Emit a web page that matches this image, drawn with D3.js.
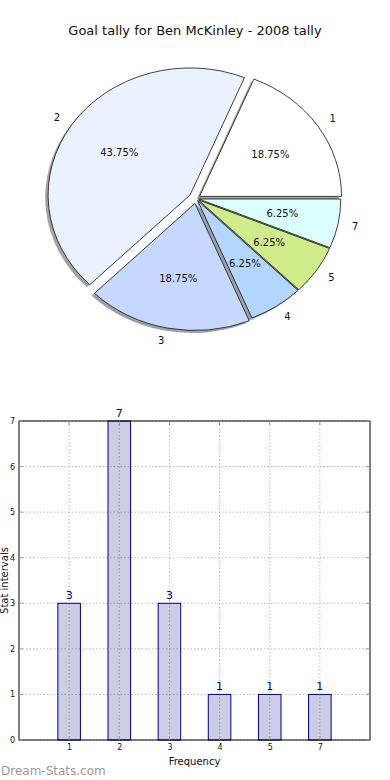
<!DOCTYPE html>
<html>
<head>
<meta charset="utf-8">
<script src="https://cdn.jsdelivr.net/npm/d3@7"></script>
<style>
  html, body { margin: 0; padding: 0; background: #fff; }
  svg { display: block; font-family: "DejaVu Sans", sans-serif; }
</style>
</head>
<body>
<svg id="chart" width="390" height="780"></svg>
<script>
// ---- data ----
const title = "Goal tally for Ben McKinley - 2008 tally";
const categories = ["1", "2", "3", "4", "5", "7"];
const counts = [3, 7, 3, 1, 1, 1];
const yTicks = [0, 1, 2, 3, 4, 5, 6, 7];
const xLabel = "Frequency";
const yLabel = "Stat intervals";
const watermark = "Dream-Stats.com";

// ---- style config ----
const sliceColors = ["#ffffff", "#eaf1ff", "#c6d8ff", "#b3d6ff", "#d0eb8a", "#dbffff"];
const explode = [0.03, 0.05, 0.04, 0.02, 0.02, 0.02];

const svg = d3.select("#chart");

// Title
svg.append("text")
  .attr("x", 195).attr("y", 35)
  .attr("text-anchor", "middle")
  .attr("font-size", 13)
  .attr("fill", "#111")
  .text(title);

// ---- Pie ----
const cx = 196, cy = 198.5, rx = 142, ry = 127;
const total = d3.sum(counts);
const pie = d3.pie().sort(null).value(d => d)
  .startAngle(Math.PI / 2).endAngle(Math.PI / 2 - 2 * Math.PI);
const arcs = pie(counts);
const unitArc = d3.arc().innerRadius(0).outerRadius(1);

function dir(a) { return [Math.sin(a), -Math.cos(a)]; }
function mid(d) { return (d.startAngle + d.endAngle) / 2; }

const pieG = svg.append("g");
// shadows
pieG.selectAll("path.shadow").data(arcs).enter().append("path")
  .attr("class", "shadow")
  .attr("d", unitArc)
  .attr("transform", (d, i) => {
    const [ux, uy] = dir(mid(d));
    const e = explode[i];
    return `translate(${cx + rx * (e * ux - 0.02)},${cy + ry * (e * uy + 0.02)}) scale(${rx},${ry})`;
  })
  .attr("fill", (d, i) => { const c = d3.rgb(sliceColors[i]); return d3.rgb(c.r * 0.3, c.g * 0.3, c.b * 0.3).toString(); })
  .attr("fill-opacity", 0.5)
  .attr("stroke", "none");
// wedges
pieG.selectAll("path.wedge").data(arcs).enter().append("path")
  .attr("class", "wedge")
  .attr("d", unitArc)
  .attr("transform", (d, i) => {
    const [ux, uy] = dir(mid(d));
    const e = explode[i];
    return `translate(${cx + rx * e * ux},${cy + ry * e * uy}) scale(${rx},${ry})`;
  })
  .attr("fill", (d, i) => sliceColors[i])
  .attr("stroke", "#111")
  .attr("stroke-width", 0.8)
  .attr("vector-effect", "non-scaling-stroke");
// category labels
pieG.selectAll("text.lab").data(arcs).enter().append("text")
  .attr("class", "lab")
  .each(function (d, i) {
    const [ux, uy] = dir(mid(d));
    const k = 1.1 + explode[i];
    d3.select(this)
      .attr("x", cx + rx * k * ux)
      .attr("y", cy + ry * k * uy)
      .attr("text-anchor", ux > 0 ? "start" : "end");
  })
  .attr("dy", "0.35em")
  .attr("font-size", 10)
  .attr("fill", "#111")
  .text((d, i) => categories[i]);
// pct labels
pieG.selectAll("text.pct").data(arcs).enter().append("text")
  .attr("class", "pct")
  .each(function (d, i) {
    const [ux, uy] = dir(mid(d));
    const k = 0.6 + explode[i];
    d3.select(this)
      .attr("x", cx + rx * k * ux)
      .attr("y", cy + ry * k * uy);
  })
  .attr("text-anchor", "middle")
  .attr("dy", "0.35em")
  .attr("font-size", 10)
  .attr("fill", "#111")
  .text(d => (d.value / total * 100).toFixed(2) + "%");

// ---- Bar chart ----
const L = 19, R = 370, T = 421, B = 740;
const x = d3.scalePoint().domain(categories).range([L, R]).padding(1);
const y = d3.scaleLinear().domain([0, 7]).range([B, T]);
const bw = x.step() * 0.45;

const bars = svg.append("g");
// grid
bars.append("g").selectAll("line").data(yTicks).enter().append("line")
  .attr("x1", L).attr("x2", R)
  .attr("y1", d => y(d)).attr("y2", d => y(d))
  .attr("stroke", "#bbb").attr("stroke-width", 1)
  .attr("stroke-dasharray", "1.5,2");
bars.append("g").selectAll("line").data(categories).enter().append("line")
  .attr("y1", T).attr("y2", B)
  .attr("x1", d => x(d)).attr("x2", d => x(d))
  .attr("stroke", "#bbb").attr("stroke-width", 1)
  .attr("stroke-dasharray", "1.5,2");

// bars
bars.append("g").selectAll("rect").data(counts).enter().append("rect")
  .attr("x", (d, i) => x(categories[i]) - bw / 2)
  .attr("width", bw)
  .attr("y", d => y(d))
  .attr("height", d => y(0) - y(d))
  .attr("fill", "#00007f")
  .attr("fill-opacity", 0.2)
  .attr("stroke", "#00008b")
  .attr("stroke-width", 1);

// value labels
bars.append("g").selectAll("text").data(counts).enter().append("text")
  .attr("x", (d, i) => x(categories[i]))
  .attr("y", d => y(d) - 4)
  .attr("text-anchor", "middle")
  .attr("font-size", 11)
  .attr("fill", "#00008b")
  .text(d => d);

// frame
bars.append("rect")
  .attr("x", L).attr("y", T).attr("width", R - L).attr("height", B - T)
  .attr("fill", "none").attr("stroke", "#000").attr("stroke-width", 1);

// ticks (inside, on all sides)
const tk = bars.append("g").attr("stroke", "#999").attr("stroke-width", 1);
yTicks.forEach(v => {
  tk.append("line").attr("x1", L).attr("x2", L + 4).attr("y1", y(v)).attr("y2", y(v));
  tk.append("line").attr("x1", R - 4).attr("x2", R).attr("y1", y(v)).attr("y2", y(v));
});
categories.forEach(c => {
  tk.append("line").attr("x1", x(c)).attr("x2", x(c)).attr("y1", T).attr("y2", T + 4);
  tk.append("line").attr("x1", x(c)).attr("x2", x(c)).attr("y1", B - 4).attr("y2", B);
});

// axes labels via d3 axes
const yAxis = d3.axisLeft(y).tickValues(yTicks).tickFormat(d3.format("d")).tickSize(0).tickPadding(4);
const yA = svg.append("g").attr("transform", `translate(${L},0)`).call(yAxis);
const xAxis = d3.axisBottom(x).tickSize(0).tickPadding(4);
const xA = svg.append("g").attr("transform", `translate(0,${B})`).call(xAxis);
[yA, xA].forEach(a => {
  a.select(".domain").remove();
  a.selectAll("text").attr("font-size", 8).attr("fill", "#111").attr("font-family", "DejaVu Sans, sans-serif");
});

svg.append("text")
  .attr("x", (L + R) / 2).attr("y", 765)
  .attr("text-anchor", "middle")
  .attr("font-size", 10).attr("fill", "#111")
  .text(xLabel);
svg.append("text")
  .attr("transform", `translate(4,${(T + B) / 2}) rotate(-90)`)
  .attr("text-anchor", "middle")
  .attr("dy", "0.35em")
  .attr("font-size", 10).attr("fill", "#111")
  .text(yLabel);

// watermark
svg.append("text")
  .attr("x", 1).attr("y", 775)
  .attr("font-size", 12)
  .attr("fill", "#999")
  .text(watermark);
</script>
</body>
</html>
